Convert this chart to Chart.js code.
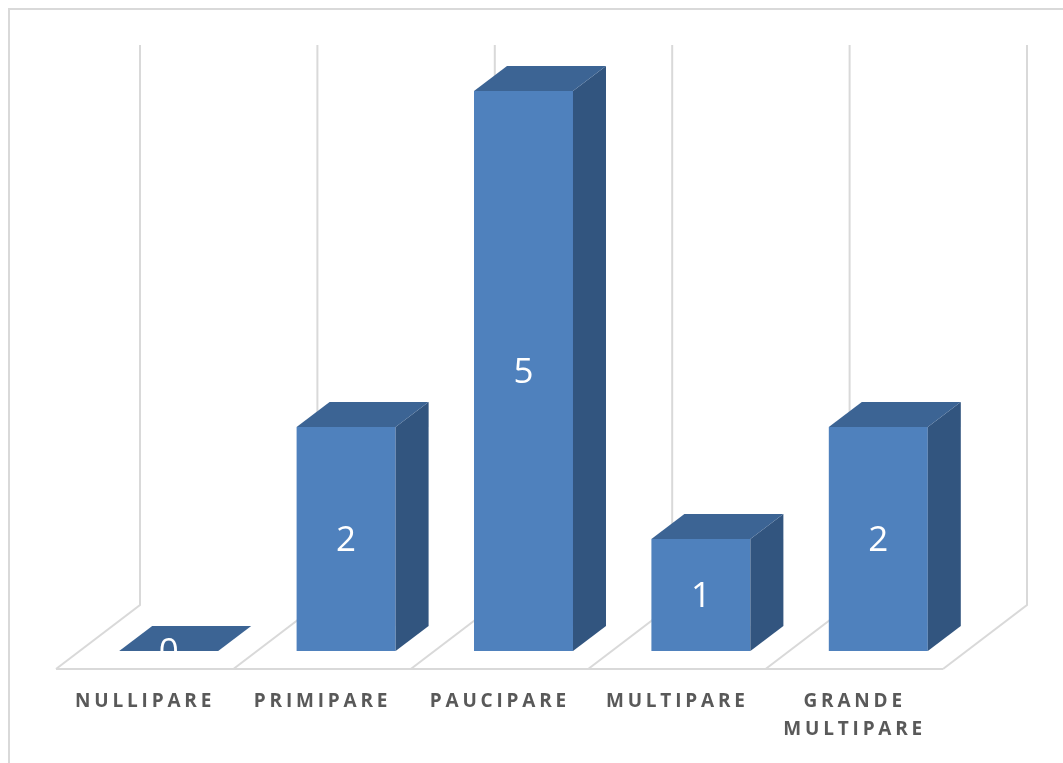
<!DOCTYPE html>
<html>
<head>
<meta charset="utf-8">
<script src="https://cdn.jsdelivr.net/npm/chart.js@4/dist/chart.umd.min.js"></script>
<style>
  html, body { margin: 0; padding: 0; background: #ffffff; }
  #wrap { width: 1063px; height: 763px; }
</style>
</head>
<body>
<div id="wrap"><canvas id="chart" width="1063" height="763"></canvas></div>
<script>
// Categories of parity and the number of women in each
const categories = ['NULLIPARE', 'PRIMIPARE', 'PAUCIPARE', 'MULTIPARE', ['GRANDE', 'MULTIPARE']];
const counts = [0, 2, 5, 1, 2];
const axisMin = 0;
const axisMax = 5;

// 3D look: offsets of the back wall, front floor edge and bar depth
const WALL = { dx: 60, dy: -46 };
const FLOOR_FRONT = { dx: -24, dy: 18 };
const DEPTH = { dx: 33, dy: -25 };
const COLORS = { front: '#4F81BD', top: '#3C6494', side: '#32557F', grid: '#D9D9D9', label: '#595959' };

const frame3d = {
  id: 'frame3d',
  beforeDraw(chart) {
    const ctx = chart.ctx;
    ctx.save();
    ctx.fillStyle = '#ffffff';
    ctx.fillRect(0, 0, chart.width, chart.height);
    // chart border (left and top edges visible)
    ctx.strokeStyle = COLORS.grid;
    ctx.lineWidth = 2;
    ctx.beginPath();
    ctx.moveTo(9, chart.height + 2);
    ctx.lineTo(9, 9);
    ctx.lineTo(chart.width + 2, 9);
    ctx.stroke();
    ctx.restore();
  },
  beforeDatasetsDraw(chart) {
    const ctx = chart.ctx;
    const area = chart.chartArea;
    const y = chart.scales.y;
    const n = categories.length;
    const slot = (area.right - area.left) / n;
    const base = y.getPixelForValue(axisMin);
    const top = y.getPixelForValue(axisMax);
    ctx.save();
    ctx.strokeStyle = COLORS.grid;
    ctx.lineWidth = 2;
    ctx.lineCap = 'butt';
    for (let i = 0; i <= n; i++) {
      const x = area.left + i * slot;
      ctx.beginPath();
      ctx.moveTo(x + WALL.dx, top + WALL.dy);
      ctx.lineTo(x + WALL.dx, base + WALL.dy);
      ctx.lineTo(x + FLOOR_FRONT.dx, base + FLOOR_FRONT.dy);
      ctx.stroke();
    }
    // front edge of the floor
    ctx.beginPath();
    ctx.moveTo(area.left + FLOOR_FRONT.dx, base + FLOOR_FRONT.dy);
    ctx.lineTo(area.right + FLOOR_FRONT.dx, base + FLOOR_FRONT.dy);
    ctx.stroke();

    // category labels along the front edge
    ctx.fillStyle = COLORS.label;
    ctx.font = 'bold 19px "Open Sans"';
    ctx.textBaseline = 'middle';
    const spacing = 3.8;
    for (let i = 0; i < n; i++) {
      const cx = area.left + (i + 0.5) * slot + FLOOR_FRONT.dx - 1.5;
      const lines = Array.isArray(categories[i]) ? categories[i] : [categories[i]];
      lines.forEach((line, li) => {
        const chars = line.split('');
        const widths = chars.map(c => ctx.measureText(c).width);
        const total = widths.reduce((a, b) => a + b, 0) + spacing * (chars.length - 1);
        let x = cx - total / 2;
        const ly = base + 51 + li * 28;
        chars.forEach((c, k) => {
          ctx.fillText(c, x, ly);
          x += widths[k] + spacing;
        });
      });
    }
    ctx.restore();
  },
  afterDatasetsDraw(chart) {
    const ctx = chart.ctx;
    const meta = chart.getDatasetMeta(0);
    ctx.save();
    meta.data.forEach((bar, i) => {
      const props = bar.getProps(['x', 'y', 'base', 'width'], true);
      const l = props.x - props.width / 2;
      const r = props.x + props.width / 2;
      const t = props.y;
      const b = props.base;
      // right side face
      ctx.fillStyle = COLORS.side;
      ctx.beginPath();
      ctx.moveTo(r, t);
      ctx.lineTo(r + DEPTH.dx, t + DEPTH.dy);
      ctx.lineTo(r + DEPTH.dx, b + DEPTH.dy);
      ctx.lineTo(r, b);
      ctx.closePath();
      ctx.fill();
      // top face
      ctx.fillStyle = COLORS.top;
      ctx.beginPath();
      ctx.moveTo(l, t);
      ctx.lineTo(l + DEPTH.dx, t + DEPTH.dy);
      ctx.lineTo(r + DEPTH.dx, t + DEPTH.dy);
      ctx.lineTo(r, t);
      ctx.closePath();
      ctx.fill();
      // value label in the middle of the front face, hidden below the floor line
      ctx.save();
      ctx.beginPath();
      ctx.rect(0, 0, chart.width, b);
      ctx.clip();
      const size = 35;
      ctx.font = size + 'px "Open Sans"';
      ctx.fillStyle = '#ffffff';
      ctx.textAlign = 'center';
      ctx.textBaseline = 'alphabetic';
      ctx.fillText(String(counts[i]), props.x, (t + b) / 2 + size * 0.357);
      ctx.restore();
    });
    ctx.restore();
  }
};

new Chart(document.getElementById('chart'), {
  type: 'bar',
  data: {
    labels: categories,
    datasets: [{
      data: counts,
      backgroundColor: COLORS.front,
      borderWidth: 0,
      categoryPercentage: 1,
      barPercentage: 0.558
    }]
  },
  options: {
    responsive: false,
    animation: false,
    layout: { padding: { left: 80, right: 96, top: 91, bottom: 112 } },
    plugins: { legend: { display: false }, tooltip: { enabled: false } },
    scales: {
      x: { display: false },
      y: { display: false, min: axisMin, max: axisMax }
    }
  },
  plugins: [frame3d]
});
</script>
</body>
</html>
